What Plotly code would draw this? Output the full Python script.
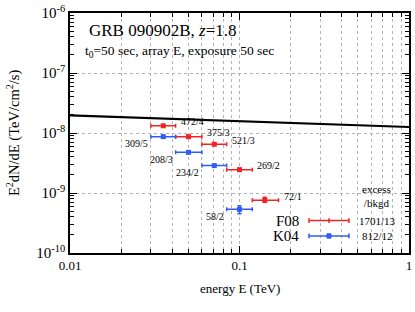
import math
import plotly.graph_objects as go

# ---------------- data ----------------
e_center = [0.0355, 0.050, 0.071, 0.100, 0.141]
e_lo = [0.030, 0.042, 0.060, 0.084, 0.119]
e_hi = [0.042, 0.060, 0.084, 0.119, 0.170]

f08_flux = [1.32e-8, 8.7e-9, 6.5e-9, 2.45e-9, 7.6e-10]
f08_flux_lo = [None, None, None, None, 7.0e-10]
f08_flux_hi = [None, None, None, None, 8.5e-10]
f08_labels = ["472/4", "375/3", "521/3", "269/2", "72/1"]

k04_center = e_center[:4]
k04_lo = e_lo[:4]
k04_hi = e_hi[:4]
k04_flux = [8.7e-9, 4.76e-9, 2.86e-9, 5.35e-10]
k04_flux_lo = [None, None, None, 4.5e-10]
k04_flux_hi = [None, None, None, 6.15e-10]
k04_labels = ["309/5", "208/3", "234/2", "58/2"]

model_e = [0.01, 0.1, 1.0]
model_f = [1.97e-8, 1.58e-8, 1.26e-8]

legend_names = ["F08", "K04"]
legend_counts = ["1701/13", "812/12"]

x_tickvals = [0.01, 0.1, 1]
x_ticktext = ["0.01", "0.1", "1"]
y_tickvals = [1e-10, 1e-9, 1e-8, 1e-7, 1e-6]
y_ticktext = ["10<sup>-10</sup>", "10<sup>-9</sup>", "10<sup>-8</sup>",
              "10<sup>-7</sup>", "10<sup>-6</sup>"]

RED = "#f02424"
BLUE = "#2f5cf5"
FONT = "Times New Roman, Liberation Serif, serif"

x_minor = [m * d for d in (0.01, 0.1) for m in range(2, 10)]
y_minor = [m * d for d in (1e-10, 1e-9, 1e-8, 1e-7) for m in range(2, 10)]


def yerr(flux, lo, hi):
    plus = [(h - f) if h is not None else 0 for f, h in zip(flux, hi)]
    minus = [(f - l) if l is not None else 0 for f, l in zip(flux, lo)]
    return plus, minus


fig = go.Figure()

fig.add_trace(go.Scatter(
    x=model_e, y=model_f, mode="lines",
    line=dict(color="black", width=2.2), showlegend=False))

for cen, lo, hi, flux, flo, fhi, col in [
    (e_center, e_lo, e_hi, f08_flux, f08_flux_lo, f08_flux_hi, RED),
    (k04_center, k04_lo, k04_hi, k04_flux, k04_flux_lo, k04_flux_hi, BLUE),
]:
    yp, ym = yerr(flux, flo, fhi)
    fig.add_trace(go.Scatter(
        x=cen, y=flux, mode="markers",
        marker=dict(symbol="square", size=5, color=col),
        error_x=dict(type="data", symmetric=False,
                     array=[h - c for h, c in zip(hi, cen)],
                     arrayminus=[c - l for c, l in zip(cen, lo)],
                     color=col, thickness=1.5, width=2),
        error_y=dict(type="data", symmetric=False, array=yp, arrayminus=ym,
                     color=col, thickness=1.5, width=2),
        showlegend=False))

annotations = []
for x, y, t in zip(e_hi, f08_flux, f08_labels):
    annotations.append(dict(x=math.log10(x), y=math.log10(y), xref="x", yref="y",
                            text=t, showarrow=False, xanchor="left",
                            yanchor="middle", xshift=3, yshift=4,
                            font=dict(family=FONT, size=10, color="black")))
for x, y, t in zip(k04_lo, k04_flux, k04_labels):
    annotations.append(dict(x=math.log10(x), y=math.log10(y), xref="x", yref="y",
                            text=t, showarrow=False, xanchor="right",
                            yanchor="middle", xshift=-1, yshift=-7,
                            font=dict(family=FONT, size=10, color="black")))

# titles inside plot
annotations.append(dict(x=0.05, y=0.925, xref="paper", yref="paper",
                        text="GRB 090902B, <i>z</i>=1.8", showarrow=False,
                        xanchor="left", yanchor="middle",
                        font=dict(family=FONT, size=17, color="black")))
annotations.append(dict(x=0.038, y=0.839, xref="paper", yref="paper",
                        text="t<sub>0</sub>=50 sec, array E, exposure 50 sec",
                        showarrow=False, xanchor="left", yanchor="middle",
                        font=dict(family=FONT, size=13.5, color="black")))

# axis titles
annotations.append(dict(x=0.5, y=-0.146, xref="paper", yref="paper",
                        text="energy E (TeV)", showarrow=False,
                        xanchor="center", yanchor="middle",
                        font=dict(family=FONT, size=13, color="black")))
annotations.append(dict(x=-0.168, y=0.5, xref="paper", yref="paper",
                        text="E<sup>2</sup>dN/dE (TeV/cm<sup>2</sup>/s)",
                        showarrow=False, textangle=-90,
                        xanchor="center", yanchor="middle",
                        font=dict(family=FONT, size=14.5, color="black")))

# legend (drawn)
annotations.append(dict(x=0.905, y=0.238, xref="paper", yref="paper",
                        text="excess<br>/bkgd", showarrow=False,
                        xanchor="center", yanchor="middle", align="center",
                        font=dict(family=FONT, size=11, color="black")))
shapes = []
leg_y = [0.135, 0.071]
for name, cnt, col, ly in zip(legend_names, legend_counts, [RED, BLUE], leg_y):
    annotations.append(dict(x=0.682, y=ly, xref="paper", yref="paper",
                            text=name, showarrow=False, xanchor="right",
                            yanchor="middle",
                            font=dict(family=FONT, size=15, color="black")))
    annotations.append(dict(x=0.907, y=ly, xref="paper", yref="paper",
                            text=cnt, showarrow=False, xanchor="center",
                            yanchor="middle",
                            font=dict(family=FONT, size=11, color="black")))
    x0, x1 = 0.705, 0.823
    xm = (x0 + x1) / 2
    shapes.append(dict(type="line", xref="paper", yref="paper",
                       x0=x0, x1=x1, y0=ly, y1=ly,
                       line=dict(color=col, width=1.5)))
    for xc in (x0, x1):
        shapes.append(dict(type="line", xref="paper", yref="paper",
                           x0=xc, x1=xc, y0=ly - 0.01, y1=ly + 0.01,
                           line=dict(color=col, width=1.5)))
    if col == RED:
        shapes.append(dict(type="line", xref="paper", yref="paper",
                           x0=xm, x1=xm, y0=ly - 0.01, y1=ly + 0.01,
                           line=dict(color=col, width=1.5)))
    else:
        shapes.append(dict(type="rect", xref="paper", yref="paper",
                           x0=xm - 0.006, x1=xm + 0.006,
                           y0=ly - 0.009, y1=ly + 0.009,
                           fillcolor=col, line=dict(color=col, width=1)))

grid_col = "#b4b4b4"
fig.update_layout(
    width=415, height=312,
    margin=dict(l=70, r=6, t=13, b=59),
    paper_bgcolor="white", plot_bgcolor="white",
    font=dict(family=FONT, size=13, color="black"),
    annotations=annotations, shapes=shapes,
    xaxis=dict(
        type="log", range=[-2, 0],
        tickmode="array", tickvals=x_tickvals, ticktext=x_ticktext,
        ticks="inside", ticklen=7, tickwidth=1, tickcolor="black",
        showline=True, linecolor="black", linewidth=1.5, mirror="allticks",
        showgrid=True, gridcolor=grid_col, griddash="dot", gridwidth=1,
        tickfont=dict(family=FONT, size=13),
        minor=dict(tickmode="array", tickvals=x_minor, ticks="inside",
                   ticklen=4, tickcolor="black", showgrid=True,
                   gridcolor=grid_col, griddash="dot", gridwidth=1),
        zeroline=False, automargin=False,
    ),
    yaxis=dict(
        type="log", range=[-10, -6],
        tickmode="array", tickvals=y_tickvals, ticktext=y_ticktext,
        ticks="inside", ticklen=7, tickwidth=1, tickcolor="black",
        showline=True, linecolor="black", linewidth=1.5, mirror="allticks",
        showgrid=True, gridcolor=grid_col, griddash="dot", gridwidth=1,
        tickfont=dict(family=FONT, size=15),
        minor=dict(tickmode="array", tickvals=y_minor, ticks="inside",
                   ticklen=4, tickcolor="black", showgrid=False),
        zeroline=False, automargin=False,
    ),
)

fig.write_html(
    "out.html",
    config={"displayModeBar": False},
    post_script="document.body.style.margin='0';"
                "document.body.style.overflow='hidden';",
)
